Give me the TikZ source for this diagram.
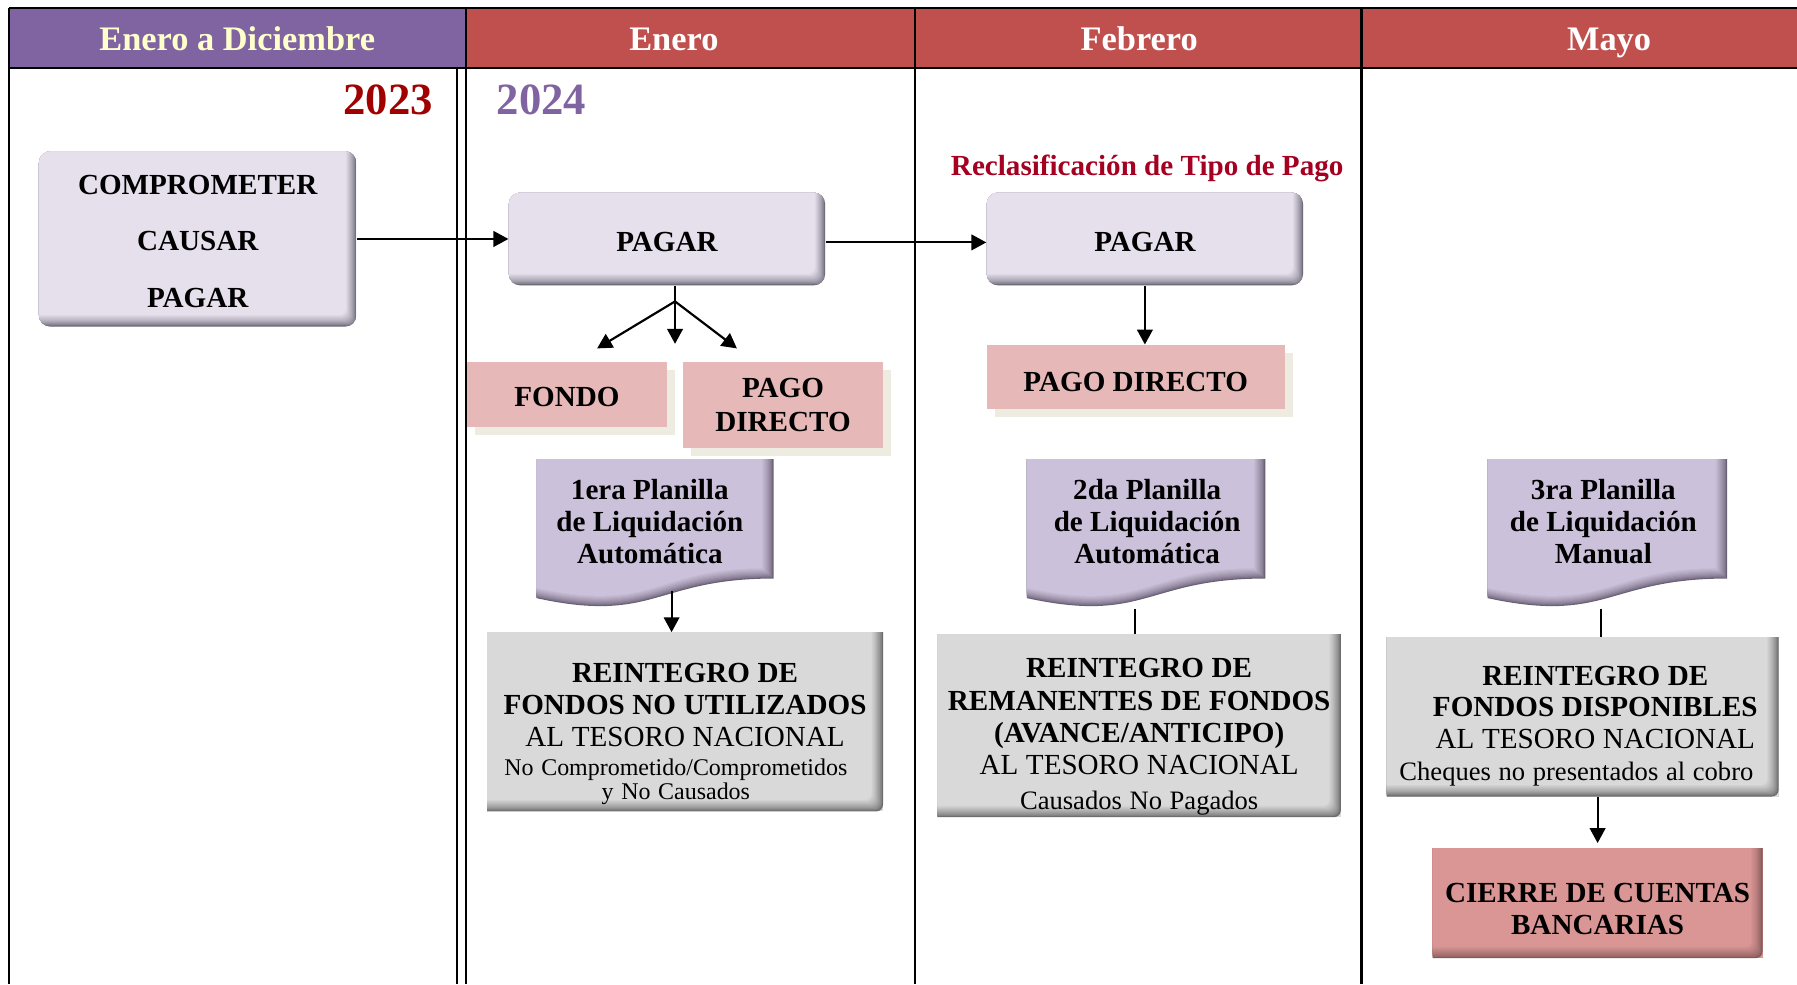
\documentclass[tikz,border=0pt]{standalone}
\usepackage{fontspec}
\setmainfont{Liberation Serif}
\usetikzlibrary{arrows.meta,shadows}

\definecolor{hdrpurple}{HTML}{8064A2}
\definecolor{hdrred}{HTML}{C0504D}
\definecolor{hdrcream}{HTML}{FFFFCC}
\definecolor{yrA}{HTML}{A00000}
\definecolor{yrB}{HTML}{8064A2}
\definecolor{reclas}{HTML}{A50021}
\definecolor{lav}{HTML}{E5E0EC}
\definecolor{lavdark}{HTML}{6E6A78}
\definecolor{planfill}{HTML}{CCC1DA}
\definecolor{plandark}{HTML}{6A6076}
\definecolor{cPink}{HTML}{E6B9B8}
\definecolor{cBeige}{HTML}{EEECE1}
\definecolor{cGray}{HTML}{D9D9D9}
\definecolor{cGrayDark}{HTML}{6C6C6C}
\definecolor{cRed}{HTML}{D99694}
\definecolor{cRedDark}{HTML}{85595A}

\newcommand{\BoldL}{\fontsize{12.7}{14}\selectfont\bfseries}
\newcommand{\RegL}{\fontsize{12.7}{14}\selectfont\mdseries}

\newcommand{\rOneText}{\centering
\BoldL REINTEGRO DE\par
\BoldL FONDOS NO UTILIZADOS\par
\RegL AL TESORO NACIONAL\par
\fontsize{10.45}{12.8}\selectfont\mdseries\hspace*{-8pt}No Comprometido/Comprometidos\par
\fontsize{10.45}{10.5}\selectfont\mdseries\hspace*{-8pt}y No Causados\par}

\newcommand{\rTwoText}{\centering
\BoldL REINTEGRO DE\par
\BoldL REMANENTES DE FONDOS\par
\BoldL (AVANCE/ANTICIPO)\par
\RegL AL TESORO NACIONAL\par
\fontsize{11.6}{15.6}\selectfont\mdseries Causados No Pagados\par}

\newcommand{\rThreeText}{\centering
\BoldL\hspace*{11pt}REINTEGRO DE\par
\fontsize{12.7}{13.5}\selectfont\bfseries\hspace*{11pt}FONDOS DISPONIBLES\par
\RegL\hspace*{11pt}AL TESORO NACIONAL\par
\fontsize{11.6}{13.65}\selectfont\mdseries\hspace*{-5.5pt}Cheques no presentados al cobro\par}

% document shape (flowchart "document"): #1 left x, #2 right x, #3 top y
\newcommand{\planshape}[3]{%
  \begin{scope}
    \clip (#1,#3) -- (#2,#3) -- (#2,#3+104.3) .. controls ({(#1+#2)/2},#3+104.3) and ({(#1+#2)/2},#3+144) .. (#1,#3+121.4) -- cycle;
    \foreach \i in {0,...,10}{
      \pgfmathsetmacro\pp{100*(\i/10)^0.7}
      \fill[planfill!\pp!plandark] (#1-5,#3-5) -- (#2-\i,#3-5) -- (#2-\i,#3+104.3-0.9*\i) .. controls ({(#1+#2)/2},#3+104.3-0.9*\i) and ({(#1+#2)/2},#3+144-0.9*\i) .. (#1,#3+121.4-0.9*\i) -- (#1-5,#3+121.4-0.9*\i) -- cycle;
    }
  \end{scope}}

\begin{document}
\begin{tikzpicture}[x=0.5pt,y=-0.5pt,
  frame/.style={line width=0.9pt, draw=black},
  hdrtxt/.style={font=\fontsize{15}{18}\selectfont\bfseries, anchor=base, inner sep=0pt},
  yeartxt/.style={font=\fontsize{19.5}{22}\selectfont\bfseries, inner sep=0pt},
  txt/.style={align=center, inner sep=0pt, text=black},
  edgeshade/.style n args={4}{path picture={
     \foreach \i in {0,...,10}{
       \pgfmathsetmacro\pp{100*(\i/10)^0.7}
       \fill[#1!\pp!#2, rounded corners=3pt] ([xshift=-20pt,yshift=20pt]path picture bounding box.north west) rectangle ([xshift={-\i*#3/10}, yshift={\i*#4/10}]path picture bounding box.south east);
     }
  }},
  lavbox/.style={rectangle, rounded corners=5pt, fill=lav, inner sep=0pt, edgeshade={lav}{lavdark}{4.5pt}{5pt}},
  pinkbox/.style={rectangle, fill=cPink, inner sep=0pt, drop shadow={shadow xshift=3.5pt, shadow yshift=-3.5pt, fill=cBeige, opacity=1}},
  graybox/.style={rectangle, fill=cGray, inner sep=0pt, edgeshade={cGray}{cGrayDark}{5pt}{5pt}},
  redbox/.style={rectangle, fill=cRed, inner sep=0pt, edgeshade={cRed}{cRedDark}{5pt}{5pt}},
  conn/.style={line width=0.95pt},
  arr/.style={conn, -{Triangle[length=6.5pt,width=6.8pt]}},
]
\useasboundingbox (0,0) rectangle (1568,859);
\fill[white] (0,0) rectangle (1568,859);

% header
\fill[hdrpurple] (8,7) rectangle (407,59);
\fill[hdrred] (407,7) rectangle (1568,59);
\node[hdrtxt, text=hdrcream] (h1) at (207,44) {Enero a Diciembre};
\node[hdrtxt, text=white] (h2) at (588,44) {Enero};
\node[hdrtxt, text=white] (h3) at (994,44) {Febrero};
\node[hdrtxt, text=white] (h4) at (1404,44) {Mayo};

\draw[frame] (8,7) -- (1568,7);
\draw[frame] (8,59) -- (1568,59);
\draw[frame] (8,7) -- (8,859);
\draw[frame] (399,59) -- (399,859);
\draw[frame] (407,7) -- (407,859);
\draw[frame] (798,7) -- (798,859);
\draw[frame] (1188,7) -- (1188,859);

% years and title
\node[yeartxt, text=yrA, anchor=base east] (y23) at (378,100) {2023};
\node[yeartxt, text=yrB, anchor=base west] (y24) at (433,100) {2024};
\node[txt, font=\BoldL, text=reclas, anchor=base] (rc) at (1001,153) {Reclasificación de Tipo de Pago};

% boxes
\node[lavbox, minimum width=138.5pt, minimum height=76.5pt,
  label={[txt, name=compt, yshift=-1pt, font=\fontsize{12.7}{24.75}\selectfont\bfseries]center:{COMPROMETER\\CAUSAR\\PAGAR}}] (comp) at (172.5,208.5) {};
\node[lavbox, minimum width=138pt, minimum height=40.5pt,
  label={[txt, name=pag1t, yshift=-1.25pt, font=\BoldL]center:{PAGAR}}] (pag1) at (582,208.5) {};
\node[lavbox, minimum width=138pt, minimum height=40.5pt,
  label={[txt, name=pag2t, yshift=-1.25pt, font=\BoldL]center:{PAGAR}}] (pag2) at (999,208.5) {};

\node[pinkbox, minimum width=87.25pt, minimum height=28.25pt,
  label={[txt, name=fondot, yshift=-1pt, font=\BoldL]center:{FONDO}}] (fondo) at (494.75,344.25) {};
\node[pinkbox, minimum width=87.25pt, minimum height=37.5pt,
  label={[txt, name=pd1t, font=\fontsize{12.7}{15}\selectfont\bfseries]center:{PAGO\\DIRECTO}}] (pd1) at (683.25,353.5) {};
\node[pinkbox, minimum width=130pt, minimum height=28pt,
  label={[txt, name=pd2t, yshift=-2pt, font=\BoldL]center:{PAGO DIRECTO}}] (pd2) at (991,329) {};

% planillas
\planshape{468}{675}{400.5}
\planshape{896}{1104}{400.5}
\planshape{1298}{1507}{400.5}
\node[txt, font=\BoldL] (p1) at (567,455) {1era Planilla\\de Liquidación\\Automática};
\node[txt, font=\BoldL] (p2) at (1001,455) {2da Planilla\\de Liquidación\\Automática};
\node[txt, font=\BoldL] (p3) at (1399,455) {3ra Planilla\\de Liquidación\\Manual};

% reintegros
\node[graybox, minimum width=172.75pt, minimum height=78pt,
  label={[txt, name=r1t, text width=170pt, yshift=-5.25pt]center:{\rOneText}}] (r1) at (597.75,630) {};
\node[graybox, minimum width=176pt, minimum height=79.5pt,
  label={[txt, name=r2t, text width=174pt, yshift=-4.85pt]center:{\rTwoText}}] (r2) at (994,633.5) {};
\node[graybox, minimum width=171pt, minimum height=69.5pt,
  label={[txt, name=r3t, text width=168pt, yshift=-4.1pt]center:{\rThreeText}}] (r3) at (1381,625.5) {};
\node[redbox, minimum width=144pt, minimum height=48pt,
  label={[txt, name=ciet, yshift=-2.5pt, font=\BoldL]center:{CIERRE DE CUENTAS\\BANCARIAS}}] (cierre) at (1394,788) {};

% connectors
\draw[arr] (comp.east) -- (pag1.west);
\draw[arr] ([yshift=-1.5pt]pag1.east) -- ([yshift=-1.5pt]pag2.west);
\coordinate (fork) at (589,263);
\coordinate (tipL) at (521,304);
\coordinate (tipM) at (589,300);
\coordinate (tipR) at (643,304);
\draw[conn] (pag1.south -| fork) -- (fork);
\draw[arr] (fork) -- (tipL);
\draw[arr] (fork) -- (tipM);
\draw[arr] (fork) -- (tipR);
\draw[arr] (pag2.south) -- (pag2.south |- pd2.north);
\coordinate (p1b) at (586,516);
\draw[arr] (p1b) -- (p1b |- r1.north);
\coordinate (p2b) at (990.5,531);
\draw[conn] (p2b) -- (p2b |- r2.north);
\coordinate (p3b) at (1397,531);
\draw[conn] (p3b) -- (p3b |- r3.north);
\draw[arr] (cierre.north |- r3.south) -- ([yshift=2pt]cierre.north);
\end{tikzpicture}
\end{document}
